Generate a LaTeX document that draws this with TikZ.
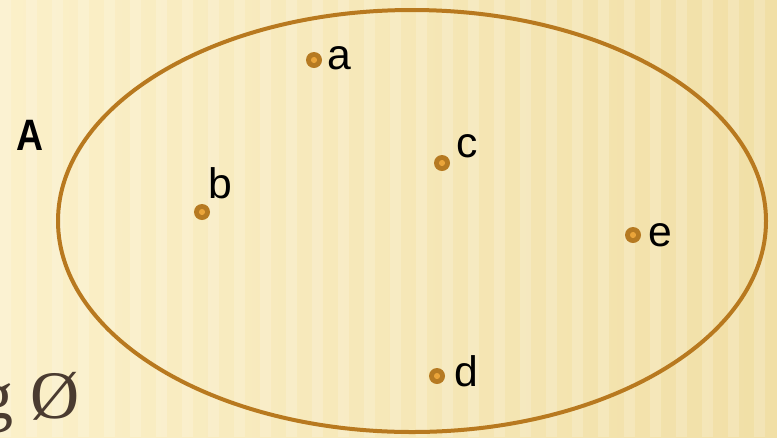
\documentclass[tikz,border=0pt]{standalone}
\usepackage{fontspec}
\setmainfont{Liberation Sans}
\newfontfamily\serifface{Liberation Serif}
\usepackage{tikz}
\definecolor{setbrown}{HTML}{B8791F}
\definecolor{dotbrown}{HTML}{B67A22}
\definecolor{dotorange}{HTML}{EAA43A}
\definecolor{paperleft}{HTML}{FBF0C9}
\definecolor{paperright}{HTML}{F1DFA6}
\definecolor{inkbrown}{HTML}{4A3B30}

\begin{document}
\begin{tikzpicture}[x=0.75pt, y=-0.75pt,
  elem/.style={circle, fill=dotbrown, minimum size=12pt, inner sep=0pt,
    path picture={\fill[dotorange] (path picture bounding box.center) circle (2.3pt);}},
  elemname/.style={anchor=base west, inner sep=0pt, font=\fontsize{32}{38}\selectfont},
]
% paper
\useasboundingbox (0,0) rectangle (777,437);
\shade[left color=paperleft, right color=paperright] (0,0) rectangle (777,437);
\foreach \x in {0,26,...,780}
  \fill[white, opacity=0.18] (\x,0) rectangle ++(11,437);

% the set A
\draw[setbrown, line width=3pt] (412,221) ellipse [x radius=354, y radius=211];
\node[anchor=base west, inner sep=0pt, xscale=0.85, font=\fontsize{33}{38}\selectfont\bfseries] (setA) at (16,150) {A};

% elements
\node[elem] (a) at (314,60) {};
\node[elem] (b) at (202,212) {};
\node[elem] (c) at (442,163) {};
\node[elem] (d) at (437,376) {};
\node[elem] (e) at (633,235) {};
\node[elemname] (la) at (327,69) {a};
\node[elemname] (lb) at (208,198) {b};
\node[elemname] (lc) at (456,157) {c};
\node[elemname] (ld) at (454,386) {d};
\node[elemname] (le) at (648,246) {e};

% empty set, cut off at the edge
\node[anchor=base east, inner sep=0pt, text=inkbrown, font=\serifface\fontsize{51}{60}\selectfont] (empty) at (80,418) {g Ø};
\end{tikzpicture}
\end{document}
